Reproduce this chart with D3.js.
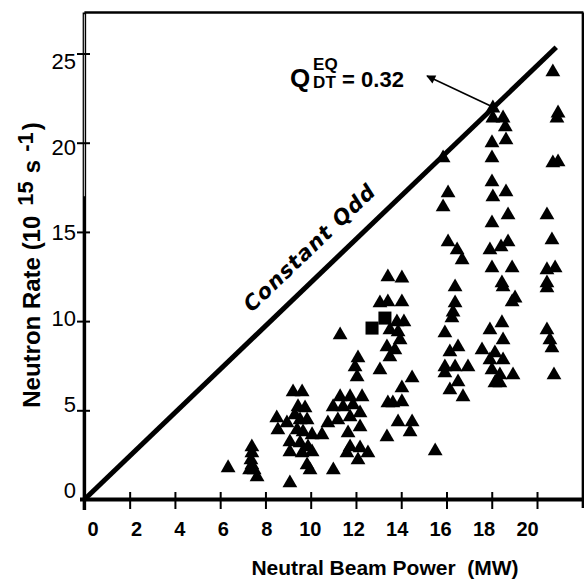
<!DOCTYPE html>
<html>
<head>
<meta charset="utf-8">
<script src="https://cdn.jsdelivr.net/npm/d3@7"></script>
<style>
  body { margin: 0; background: #fff; }
  svg text { fill: #000; }
</style>
</head>
<body>
<div id="chart"></div>
<script>
const xTicks = [0, 2, 4, 6, 8, 10, 12, 14, 16, 18, 20];
const yTicks = [0, 5, 10, 15, 20, 25];
const xTitle = "Neutral Beam Power  (MW)";
const qLine = [[0, 0], [20.85, 25.35]];
const qLabel = "Constant Qdd";

// neutral beam power (MW), neutron rate (1e15 /s)
const triangles = [
  [6.35, 1.77], [7.4, 2.94], [7.4, 2.61], [7.36, 2.21], [7.4, 1.93], [7.5, 1.65], [7.63, 1.26], [7.3, 1.65],
  [8.5, 4.57], [8.55, 3.9], [8.95, 4.29], [9.08, 3.22], [9.08, 2.66], [9.22, 6.03], [9.62, 6.03], [9.3, 4.74],
  [9.44, 5.19], [9.75, 5.13], [9.53, 4.46], [9.84, 4.46], [9.4, 3.9], [9.66, 3.78], [10.06, 3.62], [9.53, 3.17],
  [9.88, 2.94], [9.62, 2.61], [10.06, 2.66], [9.84, 1.93], [9.97, 1.65], [9.08, 0.92], [10.5, 3.62], [11.0, 1.65],
  [11.3, 9.22], [12.09, 7.93], [11.96, 7.43], [12.05, 6.87], [11.3, 5.75], [11.74, 5.75], [12.27, 5.75],
  [10.99, 5.19], [11.43, 5.19], [11.87, 5.3], [12.18, 4.85], [10.76, 4.29], [11.2, 4.46], [11.74, 4.62],
  [11.65, 3.73], [12.18, 4.06], [11.74, 2.94], [11.6, 2.61], [12.18, 2.89], [12.53, 2.61], [12.09, 2.21],
  [13.41, 12.47], [14.03, 12.41], [13.06, 11.01], [13.41, 11.07], [14.03, 11.07], [13.81, 9.95], [14.12, 9.95],
  [13.5, 9.5], [13.86, 9.39], [13.95, 8.94], [13.37, 8.55], [13.72, 8.38], [13.5, 7.99], [13.06, 7.26],
  [14.48, 6.81], [14.03, 6.25], [13.41, 5.41], [13.63, 5.41], [14.03, 5.47], [13.86, 4.34], [14.48, 4.34],
  [14.39, 3.78], [13.37, 3.5], [15.5, 2.72],
  [15.85, 19.14], [16.07, 17.18], [15.85, 16.4], [16.07, 14.43], [16.47, 13.99], [16.69, 13.43], [16.38, 11.91],
  [16.38, 11.01], [16.29, 10.5], [16.24, 10.17], [15.93, 9.33], [16.51, 8.55], [16.15, 8.27], [15.93, 7.43],
  [16.38, 7.43], [16.95, 7.43], [15.93, 7.09], [16.51, 6.59], [16.15, 6.14], [16.73, 5.75],
  [18.05, 21.94], [18.5, 21.38], [18.05, 21.38], [18.6, 20.88], [18.01, 19.99], [18.63, 20.15], [18.01, 19.14],
  [18.01, 17.8], [18.05, 16.96], [18.63, 17.24], [18.72, 15.95], [18.01, 15.5], [18.72, 14.43], [17.92, 13.99],
  [18.41, 14.15], [18.01, 12.98], [18.9, 12.98], [18.45, 12.14], [18.5, 11.91], [19.03, 11.29], [18.9, 11.07],
  [18.45, 9.9], [17.92, 9.5], [18.5, 8.94], [17.57, 8.38], [18.14, 8.21], [17.92, 7.82], [18.5, 7.82],
  [18.01, 7.26], [18.36, 6.98], [18.94, 6.98], [18.14, 6.53], [18.36, 6.53],
  [20.7, 23.96], [20.93, 21.66], [20.88, 21.38], [20.7, 18.86], [20.93, 18.92], [20.44, 15.95], [20.66, 14.55],
  [20.44, 12.87], [20.8, 12.98], [20.44, 12.14], [20.44, 11.86], [20.44, 9.5], [20.57, 8.94], [20.66, 8.49],
  [20.75, 6.98]
];
const squares = [[12.71, 9.61], [13.28, 10.17]];

// Q annotation: arrow tail on the line, head near the label
const arrowFrom = [18.05, 22.0];
const arrowTo = [15.14, 23.74];
const qAnchor = [9.09, 23.12];

const w = 584, h = 585;
const svg = d3.select("#chart").append("svg")
  .attr("width", w).attr("height", h)
  .style("font-family", "'Liberation Sans', Arial, sans-serif");

const x = d3.scaleLinear().domain([0, 22.05]).range([84.4, 583.4]);
const y = d3.scaleLinear().domain([0, 27.3]).range([499.5, 12.5]);
// the printed tick labels sit slightly off the tick marks
const xLab = d3.scaleLinear().domain([0, 20]).range([92.5, 527]);
const yLab = d3.scaleLinear().domain([0, 25]).range([490, 61.5]);

// frame
svg.append("line").attr("x1", x(0)).attr("x2", x(22.05)).attr("y1", y(27.3)).attr("y2", y(27.3))
  .attr("stroke", "#000").attr("stroke-width", 2.5);
svg.append("line").attr("x1", x(22.05) - 0.5).attr("x2", x(22.05) - 0.5).attr("y1", y(27.3)).attr("y2", 508)
  .attr("stroke", "#000").attr("stroke-width", 2.5);
svg.append("line").attr("x1", x(0)).attr("x2", x(0)).attr("y1", y(27.3)).attr("y2", 510)
  .attr("stroke", "#000").attr("stroke-width", 3.5);
// thin gap in the doubled upper part of the left rule
svg.append("line").attr("x1", x(0)).attr("x2", x(0)).attr("y1", y(27.2)).attr("y2", y(17))
  .attr("stroke", "#fff").attr("stroke-width", 0.8);
svg.append("line").attr("x1", 80).attr("x2", x(22.05)).attr("y1", y(0)).attr("y2", y(0))
  .attr("stroke", "#000").attr("stroke-width", 4);

// tick marks crossing the axes
const xAxis = svg.append("g").attr("transform", "translate(0,492)")
  .call(d3.axisBottom(x).tickValues(xTicks.slice(1)).tickSize(17).tickFormat(""));
xAxis.select(".domain").remove();
xAxis.selectAll("line").attr("stroke-width", 2);

const yAxis = svg.append("g").attr("transform", "translate(90,0)")
  .call(d3.axisLeft(y).tickValues(yTicks.slice(1)).tickSize(13).tickFormat(""));
yAxis.select(".domain").remove();
yAxis.selectAll("line").attr("stroke-width", 2);

// tick labels
const xLabels = svg.append("g").attr("transform", "translate(0,521.5)")
  .call(d3.axisBottom(xLab).tickValues(xTicks).tickSize(0).tickPadding(0));
xLabels.select(".domain").remove();
xLabels.selectAll("text")
  .style("font-family", "'Liberation Sans Narrow', 'Arial Narrow', sans-serif")
  .style("font-weight", "bold").style("font-size", "20px");

const yLabels = svg.append("g").attr("transform", "translate(76,0)")
  .call(d3.axisLeft(yLab).tickValues(yTicks).tickSize(0).tickPadding(0));
yLabels.select(".domain").remove();
yLabels.selectAll("text")
  .style("font-family", "'Liberation Sans Narrow', 'Arial Narrow', sans-serif")
  .style("font-size", "22px");

// constant Q line
svg.append("path")
  .attr("d", d3.line().x(d => x(d[0])).y(d => y(d[1]))(qLine))
  .attr("stroke", "#000").attr("stroke-width", 5).attr("fill", "none");

const ang = Math.atan2(y(qLine[1][1]) - y(0), x(qLine[1][0]) - x(0)) * 180 / Math.PI;
svg.append("text")
  .attr("transform", `translate(${x(7.4)},${y(10.45)}) rotate(${ang})`)
  .style("font-family", "'DejaVu Sans', sans-serif")
  .style("font-weight", "bold").style("font-style", "italic")
  .style("font-size", "21px").style("letter-spacing", "1px")
  .text(qLabel);

// data points
svg.append("g").selectAll("path.tri")
  .data(triangles).join("path")
  .attr("class", "tri")
  .attr("transform", d => `translate(${x(d[0])},${y(d[1])})`)
  .attr("d", d3.symbol(d3.symbolTriangle, 95))
  .attr("fill", "#000");

svg.append("g").selectAll("path.sq")
  .data(squares).join("path")
  .attr("class", "sq")
  .attr("transform", d => `translate(${x(d[0])},${y(d[1])})`)
  .attr("d", d3.symbol(d3.symbolSquare, 170))
  .attr("fill", "#000");

// Q annotation
svg.append("defs").append("marker")
  .attr("id", "head").attr("viewBox", "0 0 10 10")
  .attr("refX", 9).attr("refY", 5)
  .attr("markerWidth", 12).attr("markerHeight", 9)
  .attr("markerUnits", "userSpaceOnUse")
  .attr("orient", "auto")
  .append("path").attr("d", "M0,0L10,5L0,10Z").attr("fill", "#000");

svg.append("line")
  .attr("x1", x(arrowFrom[0])).attr("y1", y(arrowFrom[1]))
  .attr("x2", x(arrowTo[0])).attr("y2", y(arrowTo[1]))
  .attr("stroke", "#000").attr("stroke-width", 1.5)
  .attr("marker-end", "url(#head)");

const qx = x(qAnchor[0]), qy = y(qAnchor[1]);
const qg = svg.append("g").attr("transform", `translate(${qx},${qy})`)
  .style("font-weight", "bold");
qg.append("text").attr("x", 0).attr("y", 0).style("font-size", "26px").text("Q");
qg.append("text").attr("x", 23).attr("y", -17).style("font-size", "17px").text("EQ");
qg.append("text").attr("x", 23).attr("y", 1).style("font-size", "17px").text("DT");
qg.append("text").attr("x", 52).attr("y", 0).style("font-size", "22px").text("= 0.32");

// axis titles
svg.append("text")
  .attr("x", 385).attr("y", 575)
  .attr("text-anchor", "middle")
  .style("font-weight", "bold").style("font-size", "21px")
  .style("white-space", "pre")
  .text(xTitle);

const yt = svg.append("text")
  .attr("transform", "translate(40,265) rotate(-90)")
  .attr("text-anchor", "middle")
  .style("font-weight", "bold").style("font-size", "24px");
yt.append("tspan").text("Neutron Rate (10");
yt.append("tspan").attr("dx", 10).attr("dy", -7).style("font-size", "22px").text("15");
yt.append("tspan").attr("dx", 8).attr("dy", 7).text("s");
yt.append("tspan").attr("dx", 8).attr("dy", -7).style("font-size", "22px").text("-1");
yt.append("tspan").attr("dx", 2).attr("dy", 7).text(")");
</script>
</body>
</html>
